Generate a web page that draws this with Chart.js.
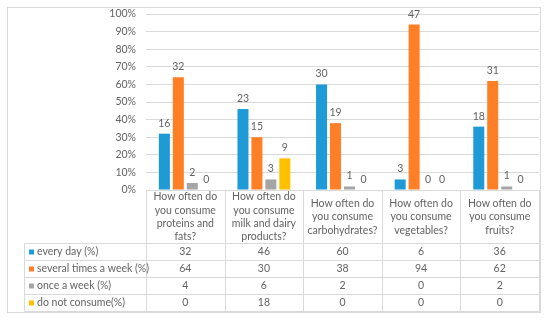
<!DOCTYPE html>
<html>
<head>
<meta charset="utf-8">
<script src="https://cdn.jsdelivr.net/npm/chart.js@4.4.1/dist/chart.umd.min.js"></script>
<style>
  html, body { margin: 0; padding: 0; background: #fff; }
</style>
</head>
<body>
<canvas id="chart" width="550" height="322"></canvas>
<script>
// categories (wrapped as in the table header)
const categories = [
    ['How often do', 'you consume', 'proteins and', 'fats?'],
    ['How often do', 'you consume', 'milk and dairy', 'products?'],
    ['How often do', 'you consume', 'carbohydrates?'],
    ['How often do', 'you consume', 'vegetables?'],
    ['How often do', 'you consume', 'fruits?']
];

const seriesNames = ['every day (%)', 'several times a week (%)', 'once a week (%)', 'do not consume(%)'];
const seriesColors = ['#1E9BD7', '#FF7F27', '#A5A5A5', '#FFC000'];

// percentages (bar heights + table)
const everyDay   = [32, 46, 60, 6, 36];
const severalWk  = [64, 30, 38, 94, 62];
const onceWk     = [4, 6, 2, 0, 2];
const notConsume = [0, 18, 0, 0, 0];

// respondent counts shown above bars
const everyDayN   = [16, 23, 30, 3, 18];
const severalWkN  = [32, 15, 19, 47, 31];
const onceWkN     = [2, 3, 1, 0, 1];
const notConsumeN = [0, 9, 0, 0, 0];

const yTicks = [0, 10, 20, 30, 40, 50, 60, 70, 80, 90, 100];

const seriesValues = [everyDay, severalWk, onceWk, notConsume];
const seriesCounts = [everyDayN, severalWkN, onceWkN, notConsumeN];

const FONT = 'Lato, "Liberation Sans", sans-serif';
const TEXT = '#636363';
const LINE = '#D9D9D9';

// --- outer frame ---
const frame = {
    id: 'frame',
    beforeDraw(chart) {
        const ctx = chart.ctx;
        ctx.save();
        ctx.fillStyle = '#fff';
        ctx.fillRect(0, 0, chart.width, chart.height);
        ctx.strokeStyle = LINE;
        ctx.lineWidth = 1;
        ctx.strokeRect(7.5, 7.5, 533, 305);
        ctx.restore();
    }
};

// --- counts above the bars ---
const barLabels = {
    id: 'barLabels',
    afterDatasetsDraw(chart) {
        const ctx = chart.ctx;
        ctx.save();
        ctx.font = '10.5px ' + FONT;
        ctx.fillStyle = TEXT;
        ctx.textAlign = 'center';
        ctx.textBaseline = 'alphabetic';
        chart.data.datasets.forEach((ds, i) => {
            chart.getDatasetMeta(i).data.forEach((bar, j) => {
                ctx.fillText(String(seriesCounts[i][j]), bar.x, bar.y - 7);
            });
        });
        ctx.restore();
    }
};

// --- data table under the plot ---
const dataTable = {
    id: 'dataTable',
    afterDraw(chart) {
        const { ctx, chartArea } = chart;
        const x = chart.scales.x;
        const colW = (chartArea.right - chartArea.left) / categories.length;
        const top = Math.round(chartArea.bottom) + 0.5;
        const headH = 53, rowH = 17, lineH = 13.3;
        const tableLeft = 24.5;
        const right = Math.round(chartArea.right) + 0.5;
        const bottom = top + headH + rowH * seriesNames.length;

        ctx.save();
        ctx.strokeStyle = LINE;
        ctx.lineWidth = 1;
        ctx.beginPath();
        ctx.moveTo(chartArea.left, top); ctx.lineTo(right, top);
        for (let r = 0; r <= seriesNames.length; r++) {
            const y = top + headH + r * rowH;
            ctx.moveTo(tableLeft, y); ctx.lineTo(right, y);
        }
        for (let c = 0; c <= categories.length; c++) {
            const xx = Math.round(chartArea.left + c * colW) + 0.5;
            ctx.moveTo(xx, top); ctx.lineTo(xx, bottom);
        }
        ctx.moveTo(tableLeft, top + headH); ctx.lineTo(tableLeft, bottom);
        ctx.stroke();

        ctx.font = '10.5px ' + FONT;
        ctx.fillStyle = TEXT;
        ctx.textAlign = 'center';
        ctx.textBaseline = 'middle';
        categories.forEach((lines, c) => {
            const cx = x.getPixelForValue(c);
            const y0 = top + headH / 2 - (lines.length - 1) * lineH / 2;
            lines.forEach((t, k) => ctx.fillText(t, cx, y0 + k * lineH));
        });

        seriesNames.forEach((name, r) => {
            const cy = top + headH + r * rowH + rowH / 2;
            ctx.fillStyle = seriesColors[r];
            ctx.fillRect(29, cy - 2.5, 5, 5);
            ctx.fillStyle = TEXT;
            ctx.textAlign = 'left';
            ctx.fillText(name, 37, cy);
            ctx.textAlign = 'center';
            seriesValues[r].forEach((v, c) => ctx.fillText(String(v), x.getPixelForValue(c), cy));
        });
        ctx.restore();
    }
};

const datasets = seriesNames.map((name, i) => ({
    label: name,
    data: seriesValues[i],
    backgroundColor: seriesColors[i],
    borderWidth: 0,
    categoryPercentage: 0.71,
    barPercentage: 0.79
}));

new Chart(document.getElementById('chart').getContext('2d'), {
    type: 'bar',
    data: { labels: categories.map(l => l.join(' ')), datasets: datasets },
    options: {
        responsive: false,
        animation: false,
        layout: { padding: { left: 0, right: 11, top: 14, bottom: 132 } },
        plugins: { legend: { display: false }, tooltip: { enabled: false } },
        scales: {
            x: { display: false },
            y: {
                min: 0, max: 100,
                afterFit(s) { s.width = 146; s.paddingTop = 0; s.paddingBottom = 0; },
                afterBuildTicks(s) { s.ticks = yTicks.map(v => ({ value: v })); },
                border: { display: false },
                grid: { color: LINE, drawTicks: false },
                ticks: {
                    padding: 10,
                    color: TEXT,
                    font: { family: FONT, size: 10.5 },
                    callback: v => v + '%'
                }
            }
        }
    },
    plugins: [frame, barLabels, dataTable]
});
</script>
</body>
</html>
